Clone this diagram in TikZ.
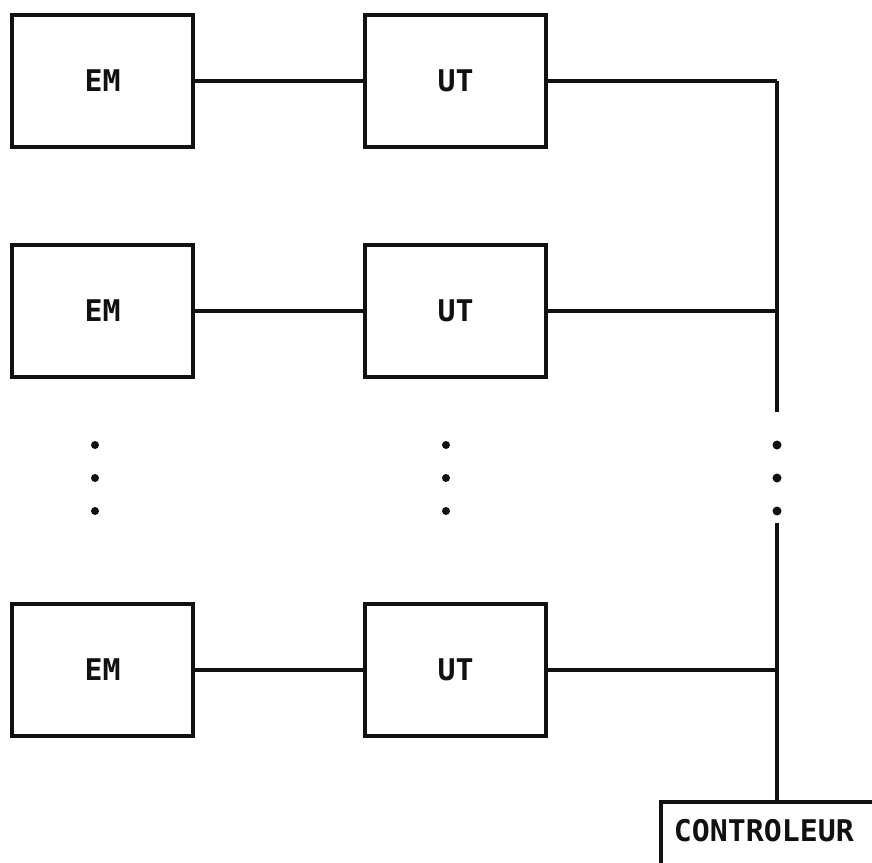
\documentclass[tikz,border=0pt]{standalone}
\usepackage{fontspec}
\newfontfamily\scanfont{DejaVu Sans Mono}
\usetikzlibrary{positioning}
\definecolor{schemInk}{HTML}{111111}
\tikzset{
  every picture/.style={font=\scanfont\bfseries\fontsize{17}{17}\selectfont, text=schemInk},
  unit box/.style={draw=schemInk, line width=2.2pt, fill=white,
    minimum width=3.62cm, minimum height=2.64cm, inner sep=0pt},
  ctrl box/.style={draw=schemInk, line width=2.2pt, fill=white, align=left,
    text width=4.74cm, inner xsep=0.26cm, inner ysep=0.36cm,
    text height=0.44cm, text depth=1.2cm},
  schem wire/.style={draw=schemInk, line width=2pt, line cap=butt},
  schem dot/.style={fill=schemInk}
}
\begin{document}
\begin{tikzpicture}[x=0.02cm,y=-0.02cm]
  \useasboundingbox (0,0) rectangle (872,862);
  \foreach \row/\yy in {1/81,2/311,3/670}{
    \node[unit box] (em\row) at (102.5,\yy) {EM};
    \node[unit box] (ut\row) at (455.5,\yy) {UT};
    \coordinate (bus\row) at (777,\yy);
    \draw[schem wire] (em\row.east) -- (ut\row.west);
    \draw[schem wire] (ut\row.east) -- (bus\row);
  }
  \node[ctrl box, anchor=north west] (ctrl) at (659,800) {CONTROLEUR};
  % bus, broken by the dots
  \coordinate (busgap) at (777,412);
  \coordinate (busback) at (777,523);
  \draw[schem wire] (bus1) -- (busgap);
  \draw[schem wire] (busback) -- (ctrl.north -| busback);
  \foreach \yy in {445,478,511}{
    \fill[schem dot] (95,\yy) circle[radius=4];
    \fill[schem dot] (446,\yy) circle[radius=4];
    \fill[schem dot] (777,\yy) circle[radius=4.5];
  }
\end{tikzpicture}
\end{document}
